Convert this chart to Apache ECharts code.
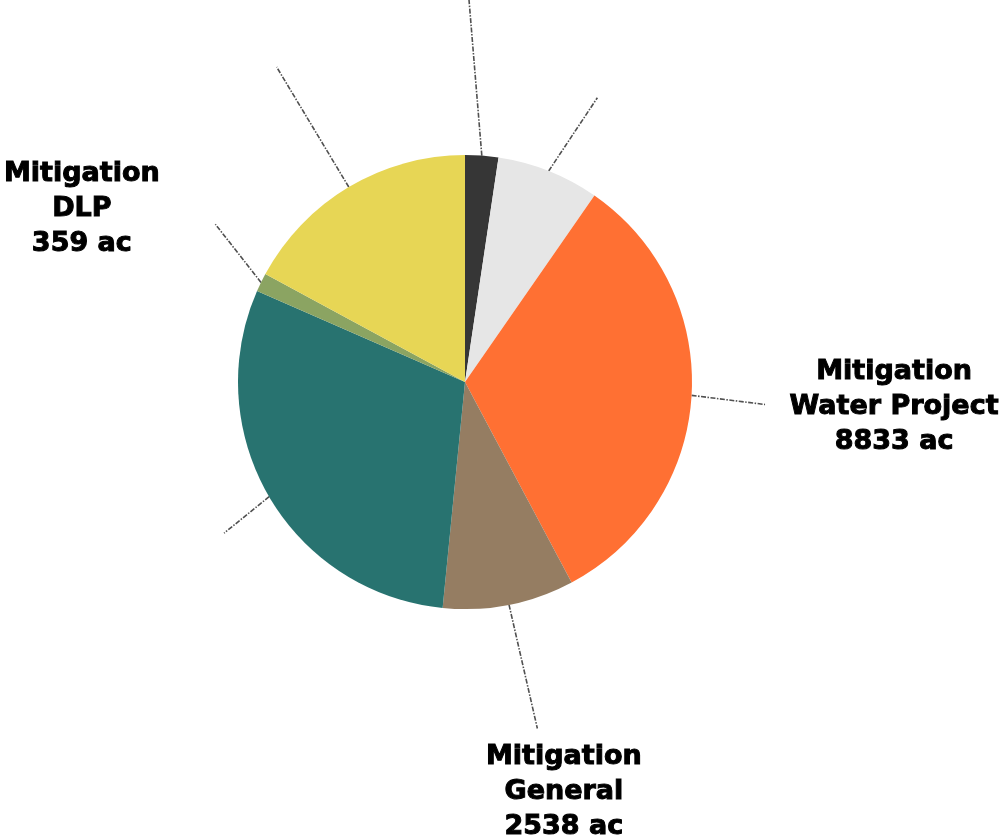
<!DOCTYPE html>
<html><head><meta charset="utf-8">
<script src="https://cdn.jsdelivr.net/npm/echarts@6/dist/echarts.min.js"></script>
<style>html,body{margin:0;padding:0;background:#fff;overflow:hidden}#c{width:1007px;height:839px}</style>
</head><body><div id="c"></div>
<script>
// ---- data ----
const categories = ['Unlabeled A', 'Unlabeled B', 'Mitigation\nWater Project', 'Mitigation\nGeneral', 'Unlabeled C', 'Mitigation\nDLP', 'Unlabeled D'];
const acres = [640, 1980, 8833, 2538, 8137, 359, 4642];
const showLabel = [false, false, true, true, false, true, false];

// ---- styles / layout ----
const colors = ['#363636', '#E6E6E6', '#FF7033', '#957D62', '#287370', '#8BA462', '#E7D655'];
const CENTER = [465, 382];
const RADIUS = 227;
const leaderAngle = [355.3, 33.6, 97.1, 167.1, 231, 321.9, 329];   // deg clockwise from 12 o'clock
const leaderLength = [175, 88, 74, 127, 58, 74, 140];
const labelOffset = [[0, 0], [0, 0], [129, 2], [26.5, 63], [0, 0], [-133.5, -15], [0, 0]];

const total = acres.reduce((a, b) => a + b, 0);
const midAngles = [];
(function () { let acc = 0; acres.forEach(v => { midAngles.push((acc + v / 2) / total * 360); acc += v; }); })();

const chart = echarts.init(document.getElementById('c'), null, { renderer: 'canvas' });
chart.setOption({
  animation: false,
  backgroundColor: '#ffffff',
  series: [{
    type: 'pie',
    center: CENTER,
    radius: RADIUS,
    startAngle: 90,
    clockwise: true,
    avoidLabelOverlap: false,
    data: categories.map((n, i) => ({ name: n, value: acres[i], itemStyle: { color: colors[i] } })),
    label: {
      show: true,
      position: 'outside',
      formatter: p => showLabel[p.dataIndex] ? p.name + '\n' + p.value + ' ac' : '',
      color: '#000',
      fontFamily: 'DejaVu Sans',
      fontWeight: 'bold',
      fontSize: 27,
      lineHeight: 35,
      textBorderColor: '#000',
      textBorderWidth: 1,
      align: 'center'
    },
    labelLine: {
      show: true,
      length: 20,
      length2: 0,
      lineStyle: { color: '#505050', width: 1.6, type: [5, 1.5, 1.5, 1.5] }
    },
    labelLayout: function (p) {
      const i = p.dataIndex;
      const m = midAngles[i] * Math.PI / 180;
      const s = [CENTER[0] + RADIUS * Math.sin(m), CENTER[1] - RADIUS * Math.cos(m)];
      const a = leaderAngle[i] * Math.PI / 180;
      const e = [s[0] + leaderLength[i] * Math.sin(a), s[1] - leaderLength[i] * Math.cos(a)];
      return {
        x: e[0] + labelOffset[i][0],
        y: e[1] + labelOffset[i][1],
        align: 'center',
        verticalAlign: 'middle',
        labelLinePoints: [s, e]
      };
    },
    emphasis: { disabled: true }
  }]
});
</script></body></html>
